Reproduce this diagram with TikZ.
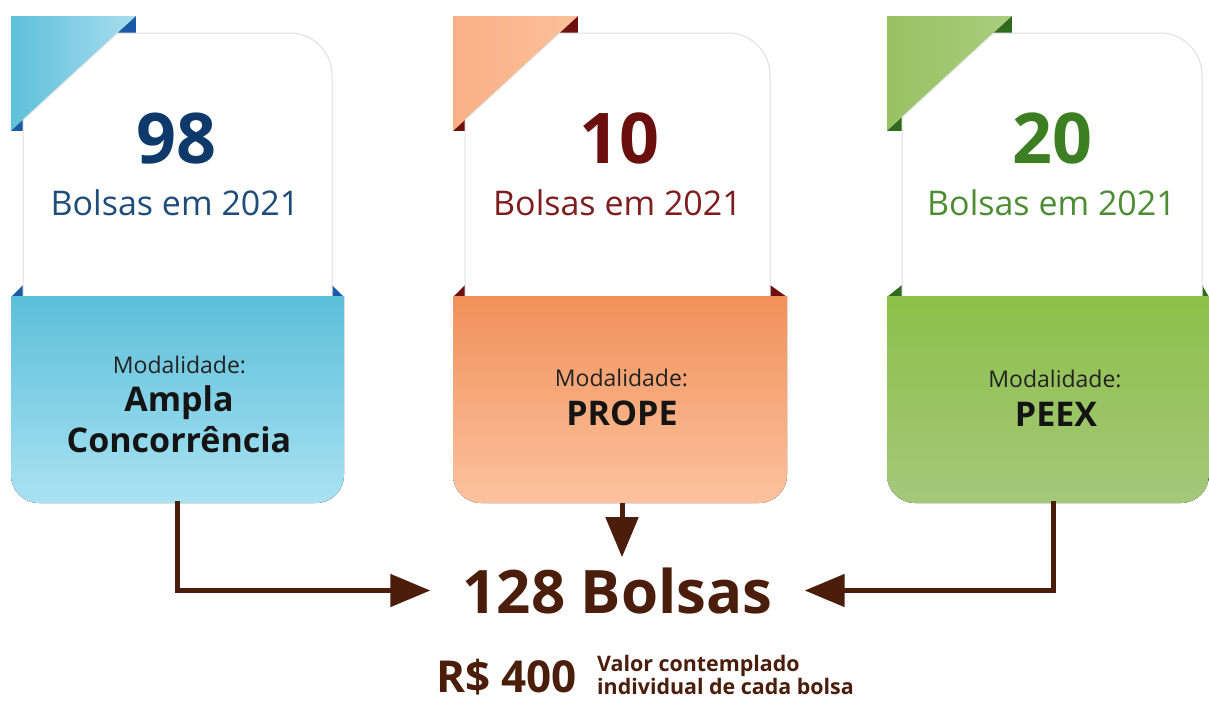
\documentclass[tikz,border=0pt]{standalone}
\usepackage{fontspec}
\setmainfont{Open Sans}
\usetikzlibrary{arrows.meta,calc}
\definecolor{c1fa}{HTML}{5EC0DA}\definecolor{c1fb}{HTML}{A8DDEF}\definecolor{c1dark}{HTML}{1B5AA6}
\definecolor{c1top}{HTML}{5CBFD8}\definecolor{c1bot}{HTML}{A9E2F3}\definecolor{c1num}{HTML}{0E3A6B}\definecolor{c1sub}{HTML}{1E4D7B}
\definecolor{c2fa}{HTML}{F9B084}\definecolor{c2fb}{HTML}{FCC09C}\definecolor{c2dark}{HTML}{6E1010}
\definecolor{c2top}{HTML}{F0915A}\definecolor{c2bot}{HTML}{FCC29E}\definecolor{c2num}{HTML}{6B0E0E}\definecolor{c2sub}{HTML}{7D1D1D}
\definecolor{c3fa}{HTML}{97C262}\definecolor{c3fb}{HTML}{A9CD7E}\definecolor{c3dark}{HTML}{2F6B1C}
\definecolor{c3top}{HTML}{8DC049}\definecolor{c3bot}{HTML}{A4C87A}\definecolor{c3num}{HTML}{3B7F22}\definecolor{c3sub}{HTML}{4C8D33}
\definecolor{brownc}{HTML}{4B1E0B}
\definecolor{modc}{HTML}{222222}
\newcommand\cardshape[6]{%
  \fill[c#6dark] (#1,16) rectangle (#2,131);
  \fill[left color=c#6fa, right color=c#6fb] (#1,16) -- (#2,16) -- (#1,131) -- cycle;
  \fill[c#6dark] (#1,297) -- (#3,285) -- (#3,297) -- cycle;
  \fill[c#6dark] (#4,285) -- (#5,297) -- (#4,297) -- cycle;
  \filldraw[fill=white, draw=black!12, line width=1pt]
    (#3,{131-(#3-#1)*0.92}) -- ({#1+106.5},33) -- ({#4-42},33)
    .. controls ({#4-19},33) and (#4,52) .. (#4,75) -- (#4,297) -- (#3,297) -- cycle;
  \fill[top color=c#6top, bottom color=c#6bot] (#1,296) -- (#5,296) -- (#5,475)
    .. controls (#5,490.5) and ({#5-12.5},503) .. ({#5-28},503) -- ({#1+28},503)
    .. controls ({#1+12.5},503) and (#1,490.5) .. (#1,475) -- cycle;
}
\tikzset{
  num/.style={anchor=base, font=\bfseries\fontsize{70}{80}\selectfont},
  sub/.style={anchor=base, font=\fontsize{34}{40}\selectfont},
  mod/.style={anchor=base, text=modc, font=\fontsize{23}{28}\selectfont},
  modname/.style={anchor=base, text=black!92, font=\bfseries\fontsize{34}{40}\selectfont},
  boxnode/.style={minimum width=333pt, minimum height=207pt, inner sep=0pt},
  conn/.style={draw=brownc, line width=5pt, -{Triangle[length=40pt,width=32pt]}},
  note/.style={anchor=base west, align=left, text=brownc, font=\bfseries\fontsize{21.4}{21}\selectfont, inner sep=0pt},
}
\begin{document}
\begin{tikzpicture}[x=1pt,y=-1pt]
\useasboundingbox[fill=white] (0,0) rectangle (1209,702);
\cardshape{11}{136}{23}{332}{344}{1}
\cardshape{453}{578}{465}{770}{787}{2}
\cardshape{887}{1012}{902}{1202}{1209}{3}
% box anchors
\node[boxnode] (b1) at (177.5,399.5) {};
\node[boxnode] (b2) at (620,399.5) {};
\node[boxnode, minimum width=322pt] (b3) at (1048,399.5) {};
% top texts
\node[num, text=c1num] (n1) at (176,163) {98};
\node[sub, text=c1sub] (s1) at (175,215) {Bolsas em 2021};
\node[num, text=c2num] (n2) at (619,163) {10};
\node[sub, text=c2sub] (s2) at (617.5,215) {Bolsas em 2021};
\node[num, text=c3num] (n3) at (1052,163) {20};
\node[sub, text=c3sub] (s3) at (1051.5,215) {Bolsas em 2021};
% bottom texts
\node[mod] (m1) at (179.5,373) {Modalidade:};
\node[modname] (p1a) at (179,411) {Ampla};
\node[modname] (p1b) at (179,452) {Concorrência};
\node[mod] (m2) at (621.5,386) {Modalidade:};
\node[modname] (p2) at (622,425) {PROPE};
\node[mod] (m3) at (1055,387) {Modalidade:};
\node[modname] (p3) at (1056,426) {PEEX};
% total
\node[anchor=base, text=brownc, font=\bfseries\fontsize{60}{70}\selectfont, inner xsep=32pt, inner ysep=10pt] (t) at (617.5,613) {128 Bolsas};
\node[anchor=base, text=brownc, font=\bfseries\fontsize{44}{50}\selectfont, inner sep=0pt, text depth=0pt] (v) at (506.5,692) {R\$ 400};
\node[note] (vd) at (597,694) {Valor contemplado\\individual de cada bolsa};
% connectors
\draw[conn] ([yshift=2pt]b1.south) |- (t.west);
\draw[conn] ([xshift=2pt]b2.south) -- ([xshift=2pt]b2.south |- t.north);
\draw[conn] ([xshift=5pt,yshift=2pt]b3.south) |- (t.east);
\end{tikzpicture}
\end{document}
